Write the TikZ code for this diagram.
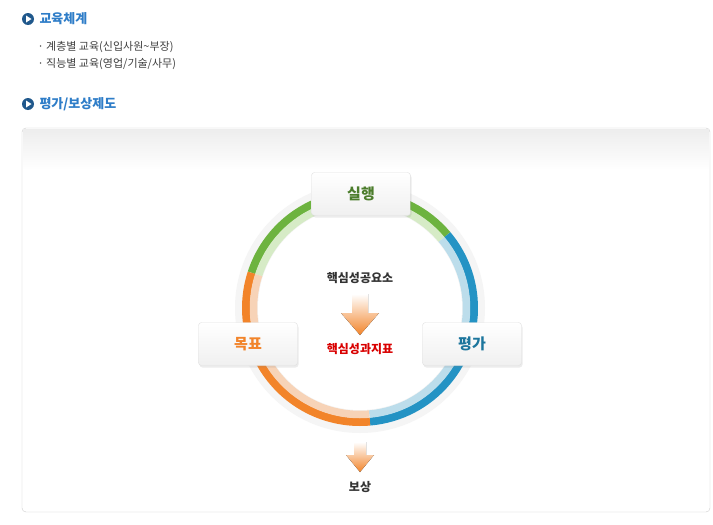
\documentclass[tikz,border=0pt]{standalone}
\usepackage{fontspec}
\newfontfamily\kr{Noto Sans CJK KR}
\usetikzlibrary{shadows,calc}
\definecolor{hblue}{HTML}{2E7DC8}
\definecolor{gr}{HTML}{6DB33F}\definecolor{grl}{HTML}{D6EBC6}
\definecolor{bl}{HTML}{2493C4}\definecolor{bll}{HTML}{BCDDEB}
\definecolor{or}{HTML}{F2842A}\definecolor{orl}{HTML}{F7D3B7}
\tikzset{
 px/.style={x=1pt,y=-1pt},
 head/.style={font=\kr\bfseries\fontsize{13}{15}\selectfont,text=hblue,anchor=west},
 item/.style={font=\kr\fontsize{11}{13}\selectfont,text=black!75,anchor=west},
 card/.style={draw=black!12,rounded corners=3pt,minimum width=99pt,minimum height=43pt,top color=white,bottom color=black!6,drop shadow={opacity=0.15,shadow xshift=1pt,shadow yshift=-2pt},font=\kr\bfseries\fontsize{15}{17}\selectfont},
 lbl/.style={font=\kr\bfseries\fontsize{12}{14}\selectfont},
 fat/.style={top color=white,bottom color=or,draw=none}
}
\begin{document}
\begin{tikzpicture}[px]
\useasboundingbox (0,0) rectangle (713,525);
\fill[white] (0,0) rectangle (713,525);
% headings
\node[circle,fill=hblue!70!black,minimum size=12pt,inner sep=0] (b1) at (28,19) {};
\fill[white] (26,15.5) -- (31.5,19) -- (26,22.5) -- cycle;
\node[head] (h1) at (36,19) {교육체계};
\node[item] (i1) at (34,47) {· 계층별 교육(신입사원\textasciitilde 부장)};
\node[item] (i2) at (34,64) {· 직능별 교육(영업/기술/사무)};
\node[circle,fill=hblue!70!black,minimum size=12pt,inner sep=0] (b2) at (28,104) {};
\fill[white] (26,100.5) -- (31.5,104) -- (26,107.5) -- cycle;
\node[head] (h2) at (36,104) {평가/보상제도};
% frame
\draw[black!20,rounded corners=4pt,fill=white] (22,128) rectangle (710,512);
\shade[top color=black!7,bottom color=white] (23,129) rectangle (709,170);
% ring
\coordinate (c) at (360,308);
\fill[black!4] (c) circle (125);
\fill[white] (c) circle (102);
\foreach \a/\b/\d/\l in {40/162/gr/grl, -85/40/bl/bll, 162/275/or/orl}{
 \draw[\d,line width=8pt] ($(c)+(-\a:114)$) arc[start angle=-\a,end angle=-\b,radius=114];
 \draw[\l,line width=7.5pt] ($(c)+(-\a:106.5)$) arc[start angle=-\a,end angle=-\b,radius=106.5];
}
% cards
\node[card,text=gr!70!black] (s) at (361,194) {실행};
\node[card,text=or] (m) at (248,344) {목표};
\node[card,text=bl!80!black] (p) at (472,344) {평가};
% center
\node[lbl,text=black!80] (k1) at (360,278) {핵심성공요소};
\node[lbl,text=red!85!black] (k2) at (360,349) {핵심성과지표};
\node[lbl,text=black!80] (r) at (360,487) {보상};
\fill[fat] (352,294) -- (368,294) -- (368,313) -- (379,313) -- (360,335) -- (341,313) -- (352,313) -- cycle;
\fill[fat] (354,442) -- (366,442) -- (366,455) -- (374,455) -- (360,472) -- (346,455) -- (354,455) -- cycle;
\end{tikzpicture}
\end{document}
